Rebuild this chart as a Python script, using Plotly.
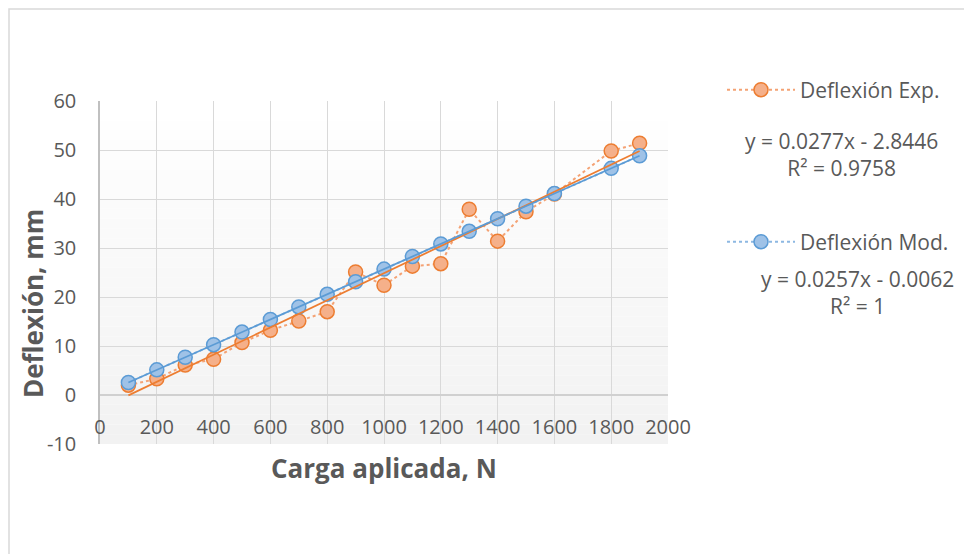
import plotly.graph_objects as go

# carga aplicada (N) y deflexiones (mm)
carga = [100, 200, 300, 400, 500, 600, 700, 800, 900, 1000,
         1100, 1200, 1300, 1400, 1500, 1600, 1800, 1900]
deflexion_exp = [2.0, 3.3, 6.1, 7.3, 10.7, 13.2, 15.1, 17.0, 25.1, 22.4,
                 26.3, 26.8, 37.9, 31.4, 37.4, 41.0, 49.8, 51.4]
deflexion_mod = [2.56, 5.13, 7.70, 10.27, 12.84, 15.41, 17.98, 20.55, 23.12, 25.69,
                 28.26, 30.83, 33.40, 35.97, 38.54, 41.11, 46.25, 48.82]

# trendline coefficients as printed on the chart
trend_exp = (0.0277, -2.8446)
trend_mod = (0.0257, -0.0062)
eq_exp = "y = 0.0277x - 2.8446<br>R² = 0.9758"
eq_mod = "y = 0.0257x - 0.0062<br>R² = 1"

x_ticks = list(range(0, 2001, 200))
y_ticks = list(range(-10, 61, 10))
y_ticktext = [str(v) for v in y_ticks]

ORANGE = "#ED7D31"
BLUE = "#5B9BD5"
TXT = "#595959"
FONT = "Open Sans"

# page body adds 8px; work in page pixels and convert
OFF = 8
W, H = 972, 554
PL, PR, PT, PB = 100, 668, 101, 444  # plot area on the page
L, T = PL - OFF, PT - OFF
R, B = W - (PR - OFF), H - (PB - OFF)
pw, ph = PR - PL, PB - PT


def px(xp):
    return (xp - PL) / pw


def py(yp):
    return (PB - yp) / ph


fig = go.Figure()

fig.add_trace(go.Scatter(
    x=carga, y=deflexion_exp, name="Deflexión Exp.", mode="lines+markers",
    line=dict(color="#F4A274", width=2, dash="dot"),
    marker=dict(size=14, color="#F5B08A", line=dict(color=ORANGE, width=1.5)),
    legend="legend",
))
fig.add_trace(go.Scatter(
    x=carga, y=deflexion_mod, name="Deflexión Mod.", mode="lines+markers",
    line=dict(color="#8DB8E2", width=2, dash="dot"),
    marker=dict(size=14, color="#9FC2E7", line=dict(color=BLUE, width=1.5)),
    legend="legend2",
))

xt = [min(carga), max(carga)]
for (m, b), col in [(trend_exp, ORANGE), (trend_mod, BLUE)]:
    fig.add_trace(go.Scatter(
        x=xt, y=[m * v + b for v in xt], mode="lines",
        line=dict(color=col, width=1.75), showlegend=False, hoverinfo="skip",
    ))

# soft vertical gradient in the plot area
shapes = []
n = 35
y0, y1 = y_ticks[0], y_ticks[-1]
step = (y1 - y0) / n
for i in range(n):
    t = i / (n - 1)
    g = round(242 + (255 - 242) * t)
    shapes.append(dict(
        type="rect", xref="x", yref="y", layer="below",
        x0=x_ticks[0], x1=x_ticks[-1], y0=y0 + i * step, y1=y0 + (i + 1) * step,
        fillcolor=f"rgb({g},{g},{g})", line=dict(width=0),
    ))
# outer chart frame (as close to the page corner as the figure allows)
shapes.append(dict(
    type="rect", xref="paper", yref="paper", layer="below",
    x0=px(OFF + 1), x1=px(1200), y0=py(OFF + 1), y1=py(800),
    line=dict(color="#d9d9d9", width=1.5), fillcolor="rgba(0,0,0,0)",
))

fig.update_layout(
    width=W, height=H,
    margin=dict(l=L, r=R, t=T, b=B),
    paper_bgcolor="white", plot_bgcolor="white",
    font=dict(family=FONT, size=20, color=TXT),
    shapes=shapes,
    showlegend=True,
    legend=dict(x=px(722), y=py(90), xanchor="left", yanchor="middle",
                font=dict(size=21, color=TXT), itemwidth=68, bgcolor="rgba(0,0,0,0)"),
    legend2=dict(x=px(722), y=py(242), xanchor="left", yanchor="middle",
                 font=dict(size=21, color=TXT), itemwidth=68, bgcolor="rgba(0,0,0,0)"),
    annotations=[
        dict(text=eq_exp, xref="paper", yref="paper", x=px(841), y=py(154),
             xanchor="center", yanchor="middle",
             showarrow=False, align="center", font=dict(size=21, color=TXT)),
        dict(text=eq_mod, xref="paper", yref="paper", x=px(857), y=py(292),
             xanchor="center", yanchor="middle",
             showarrow=False, align="center", font=dict(size=21, color=TXT)),
        dict(text="<b>Carga aplicada, N</b>", xref="paper", yref="paper",
             x=px(384), y=py(468), xanchor="center", yanchor="middle",
             showarrow=False, font=dict(size=26, color=TXT)),
        dict(text="<b>Deflexión, mm</b>", xref="paper", yref="paper",
             x=px(33), y=py(304), xanchor="center", yanchor="middle",
             showarrow=False, textangle=-90,
             font=dict(size=26, color=TXT)),
    ],
)

fig.update_xaxes(
    range=[x_ticks[0], x_ticks[-1]], tickvals=x_ticks,
    showgrid=True, gridcolor="#d9d9d9", gridwidth=1.3,
    zeroline=False, showline=False, ticks="",
    anchor="free", position=py(395), ticklabelstandoff=18,
    tickfont=dict(size=20, color=TXT),
)
fig.update_yaxes(
    range=[y_ticks[0], y_ticks[-1]], tickvals=y_ticks, ticktext=y_ticktext,
    showgrid=True, gridcolor="#d9d9d9", gridwidth=1.3,
    zeroline=True, zerolinecolor="#d0d0d0", zerolinewidth=1.5,
    showline=True, linecolor="#c0c0c0", linewidth=1.5,
    ticks="", ticklabelstandoff=18,
    tickfont=dict(size=20, color=TXT),
)

fig.write_html("out.html")
